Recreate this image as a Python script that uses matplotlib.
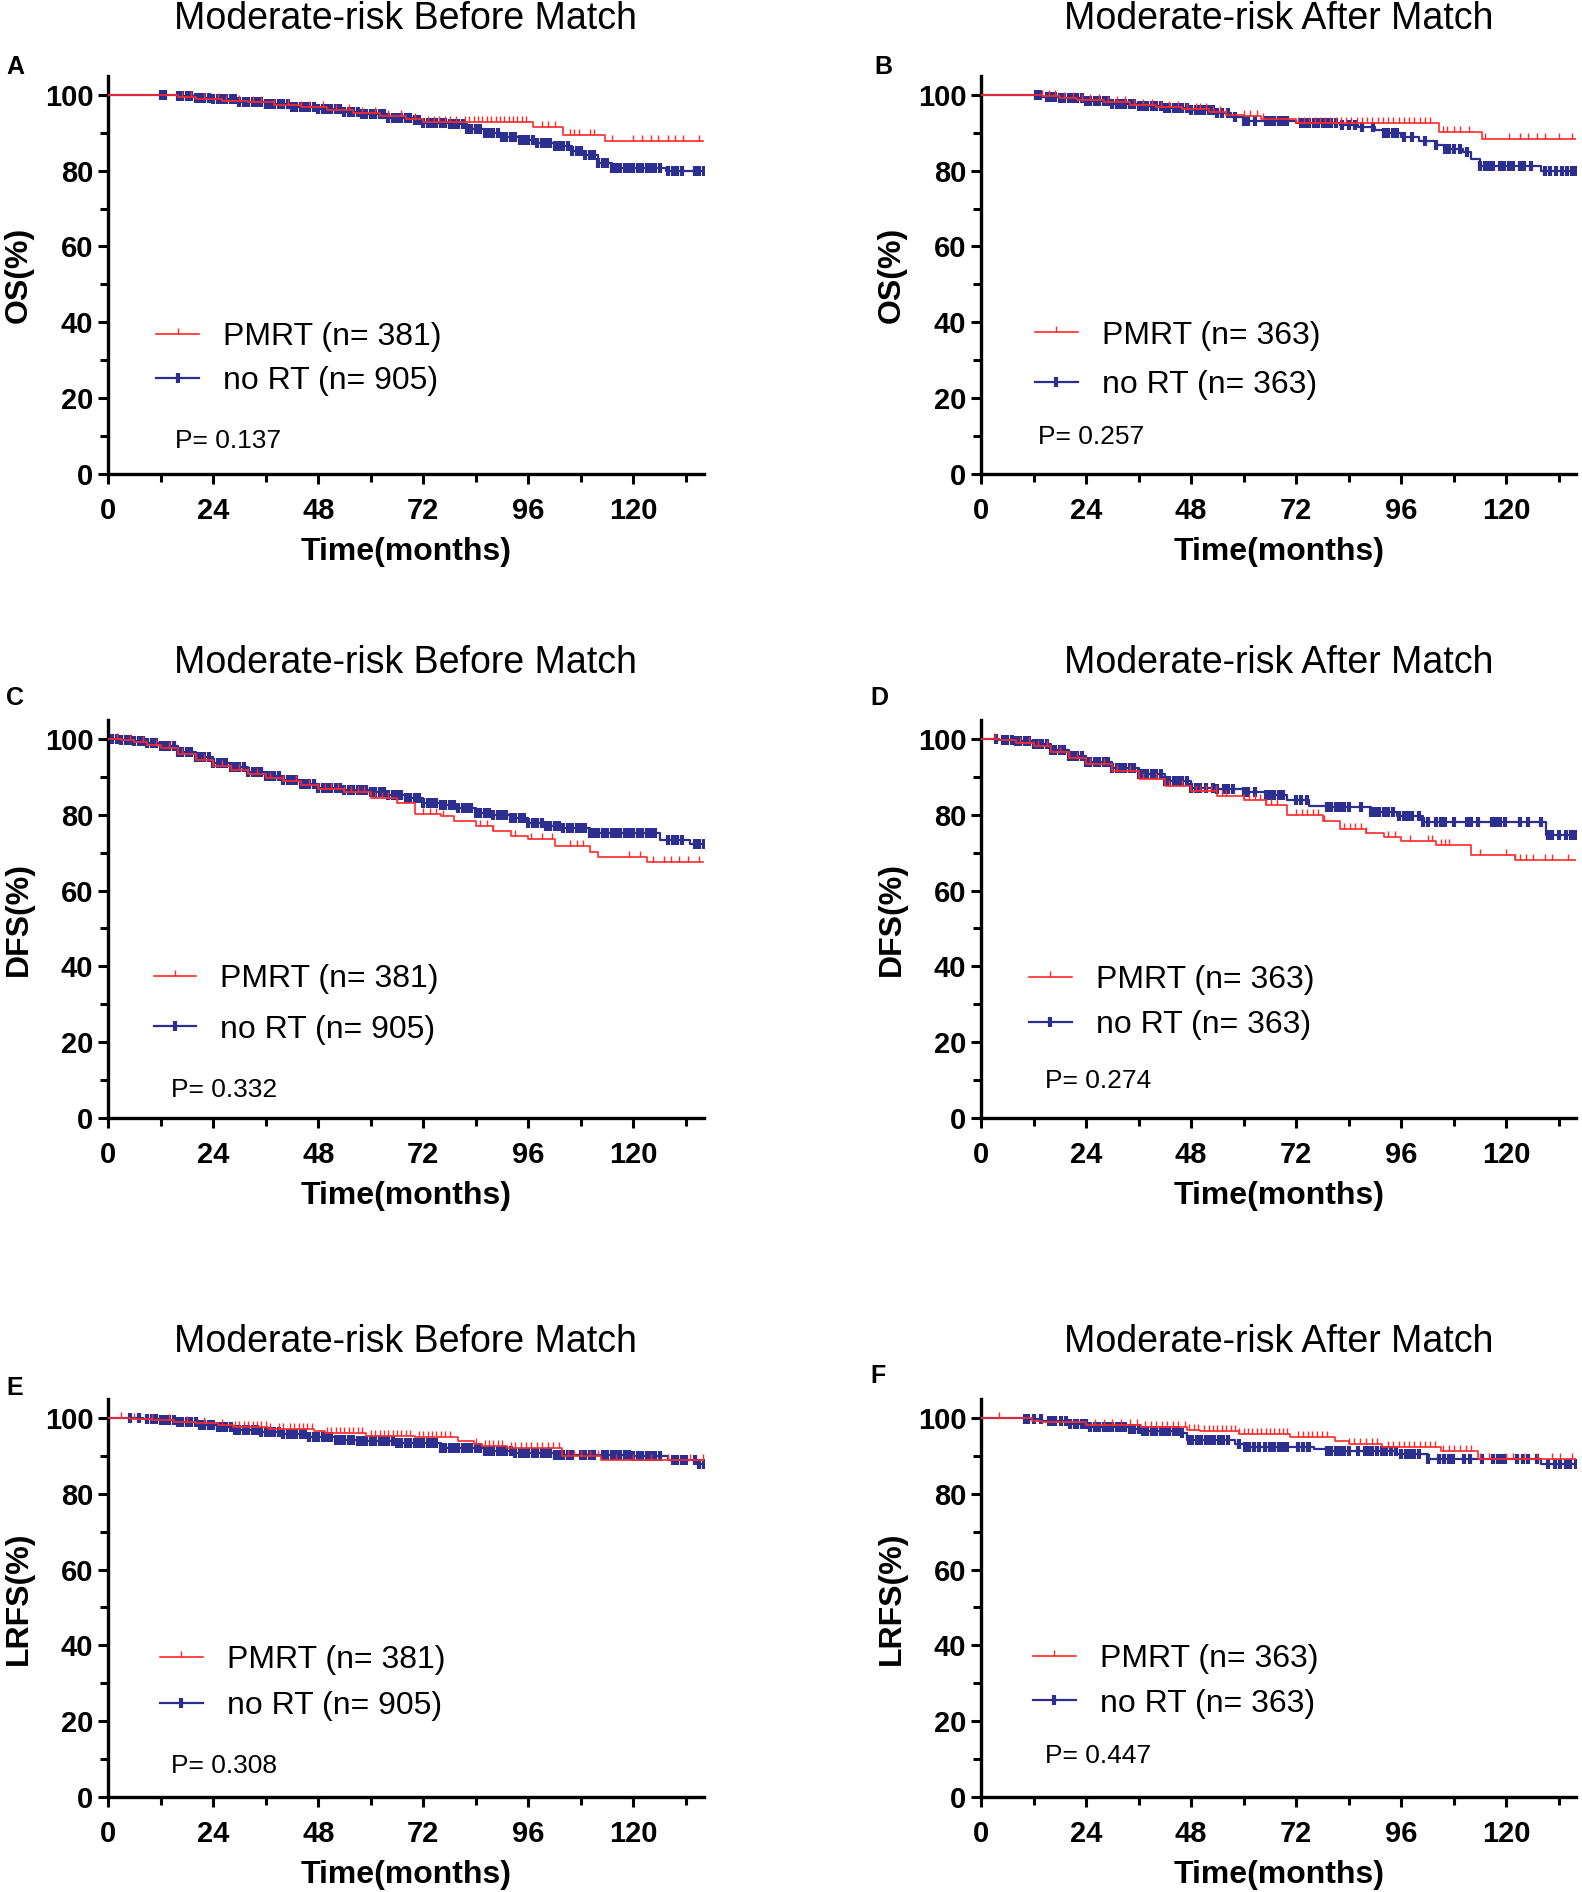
import numpy as np
import matplotlib
matplotlib.use("Agg")
import matplotlib.pyplot as plt
from matplotlib.lines import Line2D
from matplotlib.ticker import MultipleLocator

plt.rcParams["font.family"] = ["Liberation Sans", "DejaVu Sans"]

RED = "#ff2a2a"
BLUE = "#2d2f8f"
TICK_UP = [(0, 0), (0, 1)]
LAST_FOLLOWUP = 135.8

# ---------------- data ----------------
# A: OS before match
red_A_t = [0, 16, 20, 26, 32, 38, 44, 50, 56, 62, 68, 72, 97, 104, 113.5]
red_A_s = [100, 99.5, 99.0, 98.5, 98.0, 97.4, 96.7, 95.9, 95.1, 94.4, 93.7, 92.9, 91.4, 89.3, 87.7]
red_A_c = [17, 19, 22, 25, 27, 30, 33, 35, 38, 41, 44, 46, 49, 52, 55, 58, 61, 64, 67, 70,
           73, 74.5, 75.5, 77, 78, 79.5, 81.5, 82.5, 83.5, 84.5, 85.5, 86.5, 87.5, 88.5, 89.5,
           90.5, 91.5, 92.5, 93.5, 94.5, 95.5, 99, 100.5, 102, 105.5, 106.5, 107.5, 110, 111,
           115, 120, 122, 124, 125.5, 128, 129.6, 131.4, 135]
blue_A_t = [0, 16, 20, 24, 30, 36, 42, 48, 54, 58, 64, 70, 72, 78, 82, 86, 90, 94, 98, 102,
            106, 109, 112, 115, 127.5]
blue_A_s = [100, 99.6, 99.2, 98.8, 98.2, 97.6, 96.9, 96.2, 95.5, 94.9, 94.0, 93.4, 92.6, 92.2,
            91.0, 90.0, 89.0, 88.0, 87.3, 86.4, 85.3, 84.0, 82.0, 80.7, 80.0]
blue_A_c = [12, 13, 16, 17, 18, 19, 20, 21, 22, 23, 24, 25, 26, 27, 28, 29, 30, 31, 32, 33, 34,
            35, 36, 37, 38, 39, 40, 41, 42, 43, 44, 45, 46, 47, 48, 49, 50, 51, 52, 53, 54, 55,
            56, 57, 58, 59, 60, 61, 62, 63, 64, 65, 66, 67, 68, 69, 70, 71, 72, 73, 74, 75, 76,
            77, 78, 79, 80, 81, 82, 83, 84, 85, 86, 87, 88, 89, 90, 91, 92, 93, 94, 95, 96, 97,
            98, 99, 100, 101, 102, 103, 104, 105, 106, 107, 108, 109, 110, 111, 112, 113, 114,
            115, 116, 117, 118, 119, 120, 121, 122, 123, 124, 125, 126, 128, 129, 130, 131,
            134, 135, 136]

# B: OS after match
red_B_t = [0, 14, 18, 22, 28, 34, 40, 46, 52, 56, 60, 64, 72, 104.5, 114.4]
red_B_s = [100, 99.6, 99.2, 98.6, 98.0, 97.4, 96.8, 96.2, 95.5, 94.8, 94.3, 93.5, 92.6, 90.2, 88.3]
red_B_c = [14, 15.5, 17, 19, 21, 23, 25, 27, 29, 31, 33, 35, 37, 39, 41, 43, 45, 47, 49, 50,
           51.5, 53, 54.5, 56, 60, 61.5, 63, 64.5, 72.5, 73.7, 75, 76.2, 77.4, 78.6, 79.8, 81,
           82.2, 83.4, 84.6, 85.8, 87, 88.2, 89.4, 90.6, 91.8, 93, 94.2, 95.4, 96.6, 97.8, 99,
           100.2, 101.4, 102.6, 105.5, 106.5, 108, 109.5, 111.5, 115, 120.6, 123, 125, 127,
           128.7, 132, 135]
blue_B_t = [0, 14, 18, 24, 30, 36, 42, 48, 54, 57, 60, 72, 82, 86, 90, 92, 96, 100, 104, 106,
            110, 112, 114, 128]
blue_B_s = [100, 99.5, 99.1, 98.3, 97.7, 97.1, 96.6, 96.0, 95.3, 94.2, 93.0, 92.5, 92.0, 91.5,
            90.7, 89.8, 88.9, 87.7, 86.7, 85.8, 84.9, 83.1, 81.3, 79.9]
blue_B_c = [12.5, 13.5, 15, 16, 17, 18, 19, 20, 21, 22, 23, 24, 25, 26, 27, 28, 29, 30, 31, 32,
            33, 34, 35, 36, 37, 38, 39, 40, 41, 42, 43, 44, 45, 46, 47, 48, 49, 50, 51, 52, 53,
            54, 55, 56.5, 58, 60, 61, 62.5, 65, 66, 67, 68, 69, 70, 73, 74, 75, 76, 77, 78, 79,
            80, 81, 82.5, 84, 85.5, 87, 89.5, 92, 93, 94, 95, 96.5, 98.5, 101.5, 104, 106, 107,
            108, 109.5, 111, 114, 115, 116, 117, 118.5, 119.5, 120.5, 121.5, 123, 124, 125.6,
            128.7, 130, 131.4, 132.7, 133.8, 135, 136]

# C: DFS before match
red_C_t = [0, 3, 6, 9, 12, 16, 20, 24, 28, 32, 36, 40, 44, 48, 54, 60, 66, 70, 76, 79, 84, 88,
           92, 96, 102, 110, 112, 123]
red_C_s = [100, 99.7, 99.2, 98.5, 97.6, 95.9, 94.3, 92.8, 91.8, 90.7, 89.7, 88.8, 87.8, 86.7,
           86.0, 84.5, 83.2, 80.3, 79.6, 78.3, 77.0, 75.7, 74.4, 73.5, 71.8, 70.2, 68.9, 67.5]
red_C_c = [2, 5, 8, 11, 14, 17, 20, 22, 24, 26, 28, 30, 32, 34, 37, 40, 43, 46, 48, 49.5, 51,
           52.5, 54, 55.5, 57, 58.5, 61, 62.5, 64, 66, 72, 73.5, 75, 76.5, 85, 86.5, 88, 93,
           96.5, 99, 101.5, 105.5, 107, 108.5, 119, 121.5, 124.5, 127, 128.5, 130.5, 132.5, 135]
blue_C_t = [0, 3, 6, 9, 12, 16, 20, 24, 28, 32, 36, 40, 44, 48, 54, 60, 64, 68, 72, 76, 80, 84,
            88, 92, 96, 100, 104, 110, 126, 133]
blue_C_s = [100, 99.8, 99.4, 98.8, 98.0, 96.6, 95.1, 93.7, 92.5, 91.3, 90.2, 89.2, 88.1, 87.1,
            86.5, 86.0, 85.3, 84.4, 83.2, 82.6, 81.7, 80.5, 79.8, 79.0, 77.7, 77.0, 76.5, 75.3,
            73.3, 72.2]
blue_C_c = [1, 2, 3, 4, 5, 6, 7, 8, 9, 10, 11, 12, 13, 14, 15, 16, 17, 18, 19, 20, 21, 22, 23,
            24, 25, 26, 27, 28, 29, 30, 31, 32, 33, 34, 35, 36, 37, 38, 39, 40, 41, 42, 43, 44,
            45, 46, 47, 48, 49, 50, 51, 52, 53, 54, 55, 56, 57, 58, 59, 60, 61, 62, 63, 64, 65,
            66, 67, 68, 69, 70, 71, 72, 73, 74, 75, 76, 77, 78, 79, 80, 81, 82, 83, 84, 85, 86,
            87, 88, 89, 90, 91, 92, 93, 94, 95, 96, 97, 98, 99, 100, 101, 102, 103, 104, 105,
            106, 107, 108, 109, 110, 111, 112, 113, 114, 115, 116, 117, 118, 119, 120, 121, 122,
            123, 124, 125, 128, 129, 130, 131, 134, 135, 136]

# D: DFS after match
red_D_t = [0, 4, 8, 12, 16, 20, 24, 30, 36, 42, 48, 54, 60, 65, 70, 78, 82, 88, 92, 96, 104,
           112, 122]
red_D_s = [100, 99.6, 99.0, 98.2, 96.5, 95.0, 93.4, 91.6, 89.4, 87.6, 86.3, 84.9, 84.0, 82.5,
           79.9, 78.3, 76.3, 75.2, 74.0, 73.0, 72.1, 69.4, 68.1]
red_D_c = [3.3, 9, 11, 13, 15, 18, 20, 22, 25, 28, 31, 34, 37, 40, 43, 46, 49, 50, 51.3, 52.5,
           53.7, 55, 56, 60, 61.3, 62.5, 63.8, 65, 66.3, 67.5, 72, 73.3, 74.5, 75.8, 77, 78.3,
           83, 84.3, 85.5, 86.8, 88, 93, 94.5, 98, 102, 103, 105, 106, 107, 114, 120, 122, 123,
           124.5, 126, 128.7, 130.5, 134]
blue_D_t = [0, 4, 8, 12, 16, 20, 24, 30, 36, 42, 48, 54, 60, 65, 70, 75, 79, 89, 95, 101, 129]
blue_D_s = [100, 99.8, 99.4, 98.7, 97.0, 95.4, 93.8, 92.2, 90.7, 88.9, 87.1, 86.7, 86.1, 85.2,
            84.0, 82.3, 81.9, 80.8, 79.6, 78.1, 74.7]
blue_D_c = [3.5, 5, 6, 7, 8, 9, 10, 11, 12, 13, 14, 15, 16, 17, 18, 19, 20, 21, 22, 23, 24, 25,
            26, 27, 28, 29, 30, 31, 32, 33, 34, 35, 36, 37, 38, 39, 40, 41, 42, 43, 44, 45, 46,
            47, 48, 49, 50, 51.5, 53, 54, 55.4, 56.5, 57.5, 60, 61, 62.5, 65, 66, 67, 68, 69, 72,
            73, 74.5, 79, 80, 81, 82, 83, 84, 86.7, 89, 90, 91, 92, 93, 94, 95.5, 96.5, 97.5,
            98.5, 100, 101, 102, 104, 105, 106, 108, 111, 112, 113.5, 116.6, 117.6, 118.6, 119.7,
            123, 125, 127.8, 129.5, 130.5, 132, 133.7, 134.7, 135.7]

# E: LRFS before match
red_E_t = [0, 5, 10, 15, 20, 25, 28.6, 36.6, 47, 49.6, 59, 70, 80, 83.6, 85.4, 91.2, 103.7, 112.6]
red_E_s = [100, 99.7, 99.4, 99.0, 98.6, 98.1, 97.5, 97.1, 96.5, 95.9, 95.3, 94.9, 94.0, 93.1,
           92.7, 92.0, 90.0, 88.8]
red_E_c = [3, 6, 10, 14, 18, 22, 26, 29, 30, 31, 32, 33, 34, 35, 36, 37, 39, 40, 41.5, 42.5,
           43.5, 44.5, 45.5, 46.5, 50, 51, 52, 53, 54, 55, 56, 57, 58, 60, 61, 62, 63, 64, 65,
           66, 67, 68, 69, 71, 72, 73, 74, 75, 76, 77, 78, 84, 86, 87, 88, 89, 90, 92, 93, 94.3,
           95.5, 96.7, 98, 99.2, 100.5, 101.7, 103, 105, 106.5, 108, 110, 112, 116, 120, 124,
           128, 133, 135.8]
blue_E_t = [0, 8, 12, 16, 21, 25, 29, 35, 40, 46, 52, 57, 66, 76, 86, 93, 102, 120, 128, 135]
blue_E_s = [100, 99.8, 99.4, 98.8, 98.2, 97.5, 96.8, 96.2, 95.8, 94.9, 94.2, 93.8, 93.3, 92.0,
            91.3, 90.8, 90.3, 89.9, 88.8, 87.8]
blue_E_c = [5, 7, 9, 10, 11, 12, 13, 14, 15, 16, 17, 18, 19, 20, 21, 22, 23, 24, 25, 26, 27, 28,
            29, 30, 31, 32, 33, 34, 35, 36, 37, 38, 39, 40, 41, 42, 43, 44, 45, 46, 47, 48, 49,
            50, 51, 52, 53, 54, 55, 56, 57, 58, 59, 60, 61, 62, 63, 64, 65, 66, 67, 68, 69, 70,
            71, 72, 73, 74, 75, 76, 77, 78, 79, 80, 81, 82, 83, 84, 85, 86, 87, 88, 89, 90, 91,
            92, 93, 94, 95, 96, 97, 98, 99, 100, 101, 102, 103, 104, 105, 106, 108, 109, 110,
            111, 113, 114, 115, 116, 117, 118, 119, 120, 121, 122, 123, 124, 125, 126, 129, 130,
            131, 132, 134, 135, 136]

# F: LRFS after match
red_F_t = [0, 11.6, 14, 24, 36.6, 47, 50, 59, 70.6, 80.9, 84, 91.6, 105, 113.5]
red_F_s = [100, 99.3, 98.8, 98.0, 97.5, 96.8, 96.5, 95.8, 94.9, 94.0, 93.1, 92.4, 91.2, 89.2]
red_F_c = [4, 26, 28, 30, 32, 34, 35.7, 37.5, 38.8, 40, 41.3, 42.5, 43.8, 45, 46.5, 47.5,
           48.6, 49.6, 51, 52, 53, 54, 55, 56, 57, 58, 59, 60, 61, 62, 63, 64, 65, 66, 67, 68,
           69, 70, 72.4, 73.5, 74.6, 75.7, 76.8, 77.9, 79, 84, 85.3, 86.6, 87.9, 89.2, 90.5,
           93, 94.2, 95.4, 96.6, 97.8, 99, 100.2, 101.4, 102.6, 103.7, 105.5, 106.8, 108.1,
           109.4, 110.7, 112, 114, 116, 120, 121.5, 124, 127, 130.5, 132.3, 135]
blue_F_t = [0, 10, 14, 20, 25, 34, 37, 45.6, 47, 58, 60, 76, 79, 95, 102, 128]
blue_F_s = [100, 99.7, 99.3, 98.4, 97.7, 97.1, 96.6, 95.9, 94.3, 93.1, 92.4, 91.8, 91.2, 90.6,
            89.1, 87.8]
blue_F_c = [10, 10.7, 12, 13.8, 15.6, 16.4, 17, 18.3, 19.3, 20.4, 21.5, 22, 23, 24, 25, 26,
            27, 28, 29, 30, 31, 32, 33, 34, 35, 36, 37, 38, 39, 40, 41, 42, 43, 44, 45, 46,
            47.4, 47.8, 48.3, 49.3, 50.3, 51.3, 52.3, 53.3, 54.3, 55.3, 56.3, 59, 60.3, 61.3,
            62.4, 63.5, 64.8, 66, 67, 68, 69, 70, 72.4, 73.5, 74.6, 75, 79, 80, 81, 82, 83, 84,
            86.2, 87.6, 88.5, 89.4, 90.5, 91.5, 92.6, 93.6, 94.7, 96, 97, 98, 99, 100, 102,
            104.6, 105.7, 106.8, 107.7, 110.4, 111.7, 114.4, 117, 118, 119, 119.7, 122.4,
            123.8, 125, 127, 129.6, 131, 132.3, 133.5, 134.6, 135.8]

titles = ["Moderate-risk Before Match", "Moderate-risk After Match"] * 3
letters = ["A", "B", "C", "D", "E", "F"]
ylabels = ["OS(%)", "OS(%)", "DFS(%)", "DFS(%)", "LRFS(%)", "LRFS(%)"]
n_pmrt = [381, 363, 381, 363, 381, 363]
n_nort = [905, 363, 905, 363, 905, 363]
p_values = ["0.137", "0.257", "0.332", "0.274", "0.308", "0.447"]
red_curves = [(red_A_t, red_A_s, red_A_c), (red_B_t, red_B_s, red_B_c),
              (red_C_t, red_C_s, red_C_c), (red_D_t, red_D_s, red_D_c),
              (red_E_t, red_E_s, red_E_c), (red_F_t, red_F_s, red_F_c)]
blue_curves = [(blue_A_t, blue_A_s, blue_A_c), (blue_B_t, blue_B_s, blue_B_c),
               (blue_C_t, blue_C_s, blue_C_c), (blue_D_t, blue_D_s, blue_D_c),
               (blue_E_t, blue_E_s, blue_E_c), (blue_F_t, blue_F_s, blue_F_c)]

# ---------------- layout (figure fractions / axes fractions) ----------------
AX_W, AX_H = 0.3764, 0.2104
ax_pos = [(0.0683, 0.7495), (0.6201, 0.7495),
          (0.0683, 0.4091), (0.6201, 0.4091),
          (0.0683, 0.0502), (0.6201, 0.0502)]
letter_pos = [(0.004, 0.9646), (0.5525, 0.9646), (0.004, 0.6311),
              (0.550, 0.6311), (0.004, 0.2664), (0.550, 0.2727)]
leg_anchor = [(0.081, 0.288), (0.091, 0.2855), (0.077, 0.285),
              (0.081, 0.2895), (0.0875, 0.287), (0.0875, 0.2905)]
leg_spacing = [0.45, 0.61, 0.63, 0.46, 0.50, 0.45]
p_pos = [(0.112, 0.082), (0.096, 0.094), (0.105, 0.07),
         (0.107, 0.094), (0.105, 0.079), (0.107, 0.103)]


def step_value(t, s, x):
    idx = np.searchsorted(t, x, side="right") - 1
    return np.asarray(s)[idx]


def draw_curve(ax, t, s, cens, color, lw, marker, ms, mew):
    tt = list(t) + [LAST_FOLLOWUP]
    ss = list(s) + [s[-1]]
    ax.step(tt, ss, where="post", color=color, lw=lw, zorder=3)
    cy = step_value(t, s, cens)
    ax.plot(cens, cy, ls="none", marker=marker, ms=ms, mew=mew, color=color,
            mfc="none", zorder=3)


fig = plt.figure(figsize=(15.82, 18.92), dpi=100)

for i in range(6):
    ax = fig.add_axes([ax_pos[i][0], ax_pos[i][1], AX_W, AX_H])
    bt, bs, bc = blue_curves[i]
    rt, rs, rc = red_curves[i]
    draw_curve(ax, bt, bs, bc, BLUE, 1.6, "|", 7.5, 3.0)
    draw_curve(ax, rt, rs, rc, RED, 1.2, TICK_UP, 9, 1.0)

    ax.set_xlim(0, 136)
    ax.set_ylim(0, 105)
    ax.xaxis.set_major_locator(MultipleLocator(24))
    ax.xaxis.set_minor_locator(MultipleLocator(12))
    ax.yaxis.set_major_locator(MultipleLocator(20))
    ax.yaxis.set_minor_locator(MultipleLocator(10))
    for sp in ["top", "right"]:
        ax.spines[sp].set_visible(False)
    for sp in ["left", "bottom"]:
        ax.spines[sp].set_linewidth(2.4)
    ax.tick_params(which="major", direction="out", length=7.5, width=2.2, labelsize=21)
    ax.tick_params(which="minor", direction="out", length=5.5, width=2.2)
    ax.tick_params(axis="x", which="major", pad=9)
    ax.tick_params(axis="y", which="major", pad=3)
    for lbl in ax.get_xticklabels() + ax.get_yticklabels():
        lbl.set_fontweight("bold")

    ax.set_title(titles[i], fontsize=27, pad=34)
    ax.set_xlabel("Time(months)", fontsize=23, fontweight="bold", va="center")
    ax.xaxis.set_label_coords(0.5, -0.196)
    ax.set_ylabel(ylabels[i], fontsize=23, fontweight="bold", va="center")
    ax.yaxis.set_label_coords(-0.15, 0.5)

    handles = [Line2D([], [], color=RED, lw=1.2, marker=TICK_UP, ms=9, mew=1.0),
               Line2D([], [], color=BLUE, lw=1.6, marker="|", ms=7.5, mew=3.0)]
    labels = ["PMRT (n= %d)" % n_pmrt[i], "no RT (n= %d)" % n_nort[i]]
    ax.legend(handles, labels, loc="center left", bbox_to_anchor=leg_anchor[i],
              frameon=False, fontsize=23, handlelength=1.33, handletextpad=0.75,
              labelspacing=leg_spacing[i], borderpad=0, borderaxespad=0, numpoints=1)
    ax.text(p_pos[i][0], p_pos[i][1], "P= " + p_values[i], transform=ax.transAxes,
            fontsize=19, ha="left", va="center")

    fig.text(letter_pos[i][0], letter_pos[i][1], letters[i], fontsize=18,
             fontweight="bold", ha="left", va="center")

fig.savefig("out.png", dpi=100)
